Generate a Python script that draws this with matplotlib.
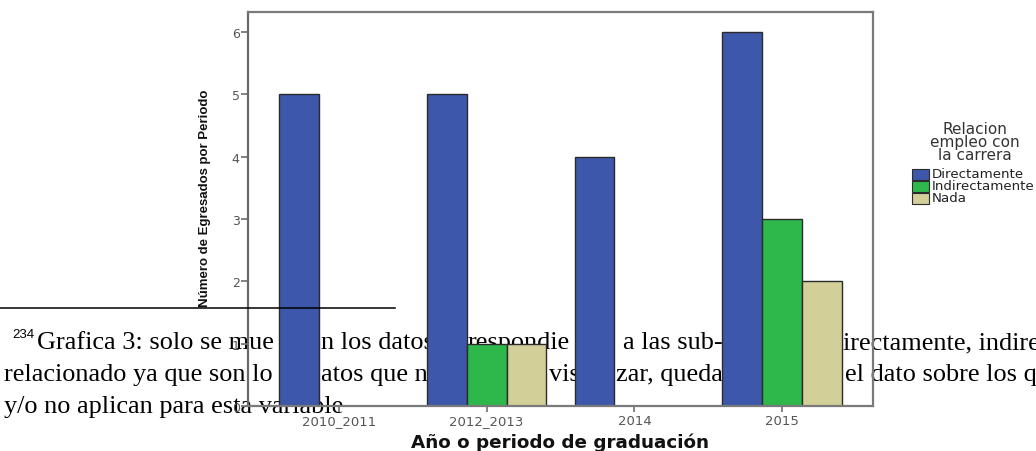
import numpy as np
import matplotlib
matplotlib.use("Agg")
import matplotlib.pyplot as plt
from matplotlib.patches import Rectangle
from matplotlib.lines import Line2D

# ---- data ----
categories = ["2010_2011", "2012_2013", "2014", "2015"]
series_names = ["Directamente", "Indirectamente", "Nada"]
directamente = [5, 5, 4, 6]
indirectamente = [np.nan, 1, np.nan, 3]
nada = [np.nan, 1, np.nan, 2]
yticks = [0, 1, 2, 3, 4, 5, 6]
legend_title = ["Relacion", "empleo con", "la carrera"]
ylabel = "Número de Egresados por Periodo"
xlabel = "Año o periodo de graduación"

# overlapping document footnote fragments (text, left px, baseline px)
footnote_fragments = [
    ("Grafica 3: solo se mue", 37, 349),
    ("n los datos", 321, 349),
    ("respondie", 468, 349),
    ("a las sub-", 623, 349),
    ("irectamente, indirectamente", 843, 349),
    ("relacionado ya que son lo", 4, 381),
    ("atos que ne", 321, 381),
    ("vis", 549, 381),
    ("zar, queda", 616, 381),
    ("el dato sobre los que", 845, 381),
    ("y/o no aplican para esta variable", 4, 413),
]
footnote_number = "234"

colors = ["#3d57aa", "#2eb84b", "#d3cf98"]
W, H = 1036, 452

fig = plt.figure(figsize=(W / 100, H / 100), dpi=100)
ax = fig.add_axes([248 / W, 45 / H, 625 / W, 394 / H])

x = np.arange(len(categories))
width = 0.27
values = [directamente, indirectamente, nada]
for i, (vals, c) in enumerate(zip(values, colors)):
    ax.bar(x + (i - 1) * width, vals, width, color=c, edgecolor="#2b2b2b",
           linewidth=1.0, zorder=1)

ax.set_xlim(-0.615, 3.615)
ax.set_ylim(0, 6.32)
ax.set_yticks(yticks)
ax.set_xticks(x)
ax.set_xticklabels(categories)

grey = "#7a7a7a"
for side in ["left", "right", "top", "bottom"]:
    ax.spines[side].set_color(grey)
    ax.spines[side].set_linewidth(1.6)
ax.spines["left"].set_color("#6a6a6a")

ax.tick_params(axis="y", length=5, width=1.3, color=grey, pad=1,
               labelsize=9, labelcolor="#555555")
ax.tick_params(axis="x", length=4, width=1.3, color=grey, pad=2,
               labelsize=9.5, labelcolor="#555555")

fig.text(205 / W, 1 - 198 / H, ylabel, rotation=90, ha="center", va="center",
         fontsize=9.5, fontweight="bold", color="#111111",
         family=["Liberation Sans", "DejaVu Sans"])
fig.text(560 / W, 1 - 443 / H, xlabel, ha="center", va="center",
         fontsize=13.2, fontweight="bold", color="#111111")

# legend (manual)
for j, line in enumerate(legend_title):
    fig.text(975 / W, 1 - (130 + 13 * j) / H, line, ha="center", va="center",
             fontsize=11, color="#333333")
for i, (name, c) in enumerate(zip(series_names, colors)):
    yc = 175 + 12 * i
    fig.patches.append(Rectangle((912 / W, 1 - (yc + 5.5) / H), 17 / W, 11 / H,
                                 transform=fig.transFigure, facecolor=c,
                                 edgecolor="#2b2b2b", linewidth=0.8))
    fig.text(932 / W, 1 - yc / H, name, ha="left", va="center",
             fontsize=9.6, color="#222222")

# document footnote overlapping the chart (behind bars)
serif = ["Liberation Serif", "DejaVu Serif"]
for s, px, py in footnote_fragments:
    ax.text(px / W, 1 - py / H, s, transform=fig.transFigure, ha="left",
            va="baseline", fontsize=18.9, family=serif, color="black",
            zorder=0.5, clip_on=False)
ax.text(12 / W, 1 - 338 / H, footnote_number, transform=fig.transFigure,
        ha="left", va="baseline", fontsize=9.5,
        family=["Liberation Sans", "DejaVu Sans"], color="black",
        zorder=0.5, clip_on=False)
fig.add_artist(Line2D([0, 395 / W], [1 - 309 / H, 1 - 309 / H],
                      transform=fig.transFigure, color="black", linewidth=1.1))

fig.savefig("out.png", dpi=100)
